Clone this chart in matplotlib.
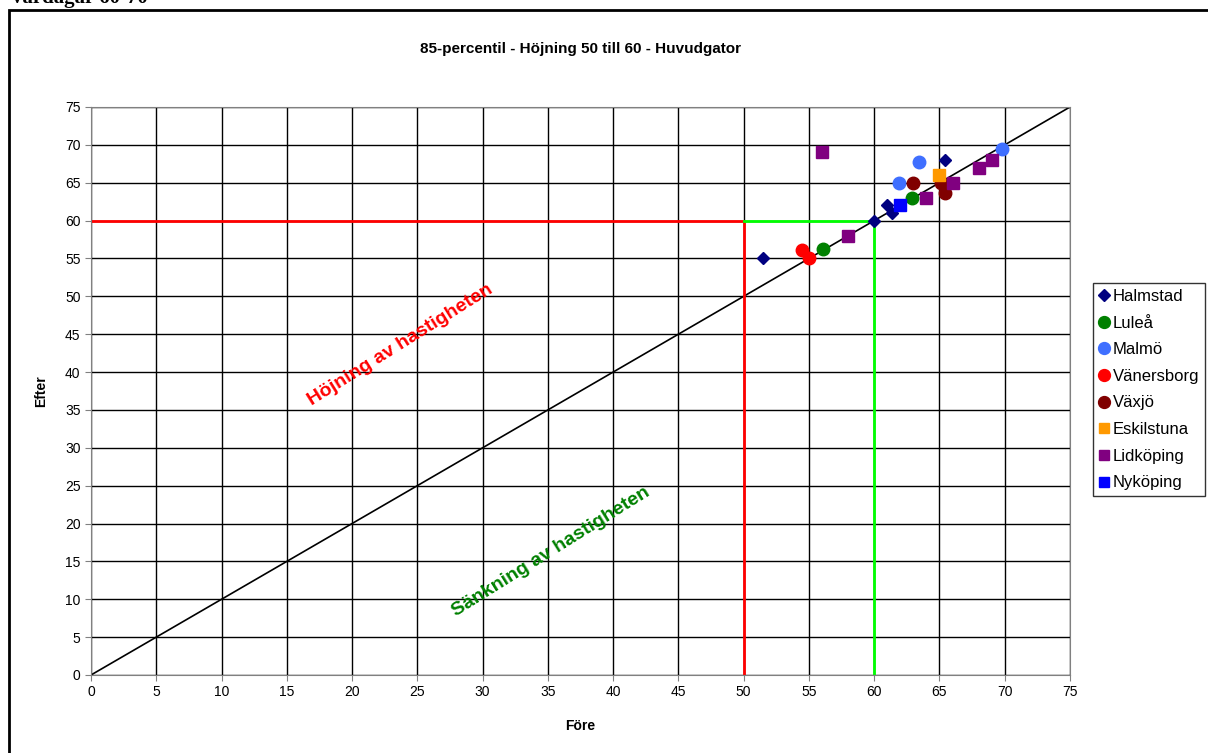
import numpy as np
import matplotlib
matplotlib.use('Agg')
import matplotlib.pyplot as plt
from matplotlib.patches import Rectangle

plt.rcParams['font.family'] = ['Liberation Sans', 'DejaVu Sans']

# data (Före, Efter)
halmstad_x = [51.5, 60.0, 61.0, 61.4, 65.4]
halmstad_y = [55.0, 60.0, 62.0, 61.0, 68.0]
lulea_x = [56.1, 62.9]
lulea_y = [56.2, 63.0]
malmo_x = [63.4, 61.9, 69.8]
malmo_y = [67.8, 65.0, 69.5]
vanersborg_x = [54.5, 55.0]
vanersborg_y = [56.1, 55.0]
vaxjo_x = [63.0, 65.1, 65.4]
vaxjo_y = [65.0, 65.0, 63.6]
eskilstuna_x = [65.0]
eskilstuna_y = [66.0]
lidkoping_x = [56.0, 58.0, 64.0, 66.0, 68.0, 69.0]
lidkoping_y = [69.0, 58.0, 63.0, 65.0, 67.0, 68.0]
nykoping_x = [62.0]
nykoping_y = [62.0]

series = [
    ('Halmstad', halmstad_x, halmstad_y, 'D', '#000080', 6.5),
    ('Luleå', lulea_x, lulea_y, 'o', '#008000', 9),
    ('Malmö', malmo_x, malmo_y, 'o', '#3F6FFF', 9),
    ('Vänersborg', vanersborg_x, vanersborg_y, 'o', '#FF0000', 9),
    ('Växjö', vaxjo_x, vaxjo_y, 'o', '#800000', 9),
    ('Eskilstuna', eskilstuna_x, eskilstuna_y, 's', '#FF9900', 8),
    ('Lidköping', lidkoping_x, lidkoping_y, 's', '#800080', 8),
    ('Nyköping', nykoping_x, nykoping_y, 's', '#0000FF', 8),
]

ticks = list(range(0, 80, 5))

fig = plt.figure(figsize=(12.08, 7.53), dpi=100)
ax = fig.add_axes([91 / 1208, 1 - 675 / 753, (1070 - 91) / 1208, (675 - 107) / 753])

# outer chart frame and the heading above it, cut by the top edge
fig.patches.append(Rectangle((9 / 1208, -0.05), 1.1, 1 - 10 / 753 + 0.05,
                             transform=fig.transFigure, fill=False,
                             edgecolor='black', linewidth=2))
fig.text(12 / 1208, 1 - 3 / 753, 'vardagar 60-70', fontsize=15, fontweight='bold',
         family=['Liberation Serif', 'DejaVu Serif'], va='baseline', ha='left')

ax.set_xlim(0, 75)
ax.set_ylim(0, 75)
ax.set_xticks(ticks)
ax.set_yticks(ticks)
ax.grid(True, color='black', linewidth=1)
ax.set_axisbelow(True)
for s in ax.spines.values():
    s.set_color('#808080')
ax.tick_params(labelsize=10, length=4, direction='out', color='#808080')

# reference lines
ax.plot([0, 75], [0, 75], color='black', linewidth=1.2, zorder=2)
ax.plot([0, 50, 50], [60, 60, 0], color='#FF0000', linewidth=2, zorder=2)
ax.plot([50, 60, 60], [60, 60, 0], color='#00FF00', linewidth=2, zorder=2)

for name, xs, ys, mk, col, ms in series:
    ax.plot(xs, ys, linestyle='none', marker=mk, color=col, markersize=ms,
            label=name, zorder=3)

ax.text(23.7, 43.6, 'Höjning av hastigheten', color='#FF0000', fontsize=14,
        fontweight='bold', rotation=32, ha='center', va='center')
ax.text(35.2, 16.2, 'Sänkning av hastigheten', color='#008000', fontsize=14,
        fontweight='bold', rotation=32, ha='center', va='center')

ax.set_title('85-percentil - Höjning 50 till 60 - Huvudgator', fontsize=11,
             fontweight='bold', pad=39)
ax.set_xlabel('Före', fontsize=10, fontweight='bold', labelpad=14)
ax.set_ylabel('Efter', fontsize=10, fontweight='bold', labelpad=12)

leg = ax.legend(loc='upper left', bbox_to_anchor=(1093 / 1208, 1 - 283 / 753),
                bbox_transform=fig.transFigure, frameon=True, fancybox=False,
                fontsize=12, handlelength=0.6, handletextpad=0.25,
                borderaxespad=0, labelspacing=0.7, borderpad=0.35,
                markerscale=0.95)
leg.get_frame().set_edgecolor('black')
leg.get_frame().set_linewidth(1)

fig.savefig('out.png', dpi=100)
